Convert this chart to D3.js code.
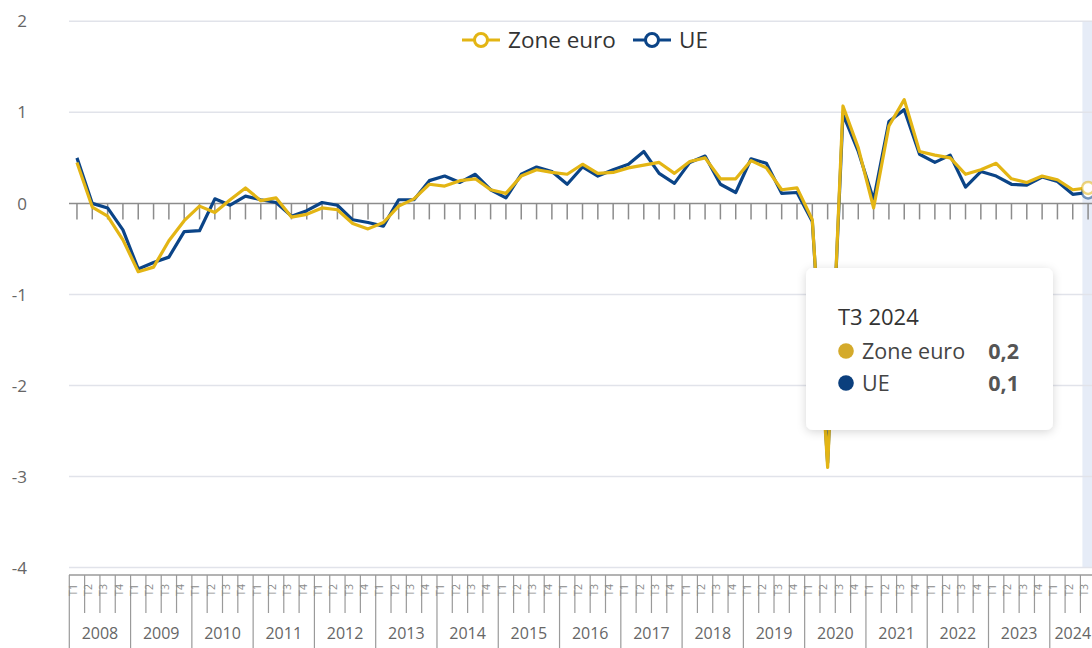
<!DOCTYPE html>
<html>
<head>
<meta charset="utf-8">
<script src="https://cdn.jsdelivr.net/npm/d3@7"></script>
<style>
  body { margin: 0; background: #fff; }
  svg { display: block; font-family: "Open Sans", "Noto Sans", sans-serif; }
</style>
</head>
<body>
<div class="container"></div>
<script>
// quarterly change, %
var years = ["2008","2009","2010","2011","2012","2013","2014","2015","2016","2017","2018","2019","2020","2021","2022","2023","2024"];
var quarterNames = ["T1","T2","T3","T4"];
var yTicks = [2, 1, 0, -1, -2, -3, -4];

var zoneEuro = [0.45,-0.04,-0.14,-0.4,-0.75,-0.7,-0.41,-0.19,-0.03,-0.1,0.04,
  0.17,0.03,0.06,-0.15,-0.12,-0.05,-0.07,-0.22,-0.28,-0.21,-0.03,
  0.05,0.21,0.19,0.25,0.27,0.15,0.11,0.3,0.37,0.34,0.32,
  0.43,0.33,0.34,0.39,0.42,0.45,0.33,0.46,0.5,0.27,0.27,
  0.47,0.39,0.15,0.17,-0.18,-2.9,1.07,0.61,-0.05,0.85,1.14,
  0.57,0.53,0.5,0.32,0.37,0.44,0.27,0.23,0.3,0.26,0.15,0.17];

var ue = [0.5,0.0,-0.05,-0.29,-0.72,-0.65,-0.59,-0.31,-0.3,0.05,-0.02,
  0.08,0.04,0.01,-0.14,-0.08,0.01,-0.02,-0.18,-0.21,-0.25,0.04,
  0.04,0.25,0.3,0.23,0.32,0.15,0.06,0.32,0.4,0.35,0.21,
  0.4,0.3,0.37,0.43,0.57,0.33,0.22,0.45,0.52,0.21,0.12,
  0.49,0.44,0.11,0.12,-0.2,-2.85,0.98,0.57,0.04,0.9,1.03,
  0.54,0.45,0.53,0.18,0.35,0.3,0.21,0.2,0.29,0.24,0.1,0.12];

var yellow = "#e3b514";
var blue = "#0b4487";
var hoverIndex = 66;

var width = 1092, height = 648;

// categories "T1 2008" ... up to the last value
var periods = [];
years.forEach(function (y) {
  quarterNames.forEach(function (q) {
    if (periods.length < zoneEuro.length) periods.push({ q: q, year: y, key: q + " " + y });
  });
});

var svg = d3.select(".container").append("svg")
  .attr("width", width)
  .attr("height", height);

var defs = svg.append("defs");
var shadow = defs.append("filter").attr("id", "shadow")
  .attr("x", "-20%").attr("y", "-20%").attr("width", "140%").attr("height", "140%");
shadow.append("feDropShadow")
  .attr("dx", 0).attr("dy", 2).attr("stdDeviation", 5)
  .attr("flood-color", "#000").attr("flood-opacity", 0.16);

var x = d3.scaleBand()
  .domain(periods.map(function (d) { return d.key; }))
  .range([69.3, 69.3 + 15.32 * periods.length]);

var y = d3.scaleLinear().domain([-4, 2]).range([567.6, 21.3]);

function cx(i) { return x(periods[i].key) + x.bandwidth() / 2; }

// hover band
svg.append("rect")
  .attr("x", x(periods[hoverIndex].key) + 2)
  .attr("y", y(2))
  .attr("width", x.bandwidth())
  .attr("height", y(-4) - y(2))
  .attr("fill", "#e6ecf7");

// gridlines
svg.selectAll(".grid")
  .data(yTicks.filter(function (d) { return d !== 0; }))
  .enter().append("line")
  .attr("x1", 69).attr("x2", width)
  .attr("y1", function (d) { return y(d); })
  .attr("y2", function (d) { return y(d); })
  .attr("stroke", "#e1e3ea")
  .attr("stroke-width", 1.5);

// y labels
svg.selectAll(".ylab")
  .data(yTicks)
  .enter().append("text")
  .attr("x", 27)
  .attr("y", function (d) { return y(d); })
  .attr("dy", "0.36em")
  .attr("text-anchor", "end")
  .attr("fill", "#666")
  .style("font-size", "17px")
  .text(function (d) { return d; });

// zero line with quarter ticks
svg.append("line")
  .attr("x1", 69).attr("x2", width)
  .attr("y1", y(0)).attr("y2", y(0))
  .attr("stroke", "#8c8c8c").attr("stroke-width", 1.5);

svg.selectAll(".ztick")
  .data(periods)
  .enter().append("line")
  .attr("x1", function (d, i) { return cx(i); })
  .attr("x2", function (d, i) { return cx(i); })
  .attr("y1", y(0)).attr("y2", y(0) + 16)
  .attr("stroke", "#8c8c8c").attr("stroke-width", 1.5);

// lines
var line = d3.line()
  .x(function (d, i) { return cx(i); })
  .y(function (d) { return y(d); });

svg.append("path").datum(ue)
  .attr("d", line)
  .attr("fill", "none").attr("stroke", blue)
  .attr("stroke-width", 3.2).attr("stroke-linejoin", "round");

svg.append("path").datum(zoneEuro)
  .attr("d", line)
  .attr("fill", "none").attr("stroke", yellow)
  .attr("stroke-width", 3.2).attr("stroke-linejoin", "round");

// hover markers
[[ue, blue], [zoneEuro, yellow]].forEach(function (s) {
  svg.append("circle")
    .attr("cx", cx(hoverIndex)).attr("cy", y(s[0][hoverIndex]))
    .attr("r", 6)
    .attr("fill", "#fff")
    .attr("stroke", s[1]).attr("stroke-opacity", 0.55)
    .attr("stroke-width", 2.5);
});

// bottom axis
var axisY = 575;
var xEnd = x.range()[1];
svg.append("line")
  .attr("x1", 69).attr("x2", xEnd)
  .attr("y1", axisY).attr("y2", axisY)
  .attr("stroke", "#9a9a9a").attr("stroke-width", 1.5);

svg.selectAll(".qline")
  .data(periods)
  .enter().append("line")
  .attr("x1", function (d) { return x(d.key); })
  .attr("x2", function (d) { return x(d.key); })
  .attr("y1", axisY)
  .attr("y2", function (d) { return d.q === "T1" ? height : 613; })
  .attr("stroke", "#9a9a9a").attr("stroke-width", 1.2);

svg.selectAll(".qlab")
  .data(periods)
  .enter().append("text")
  .attr("transform", function (d) {
    return "translate(" + (x(d.key) + 3.5) + "," + 590 + ") rotate(-90)";
  })
  .attr("text-anchor", "middle")
  .attr("dominant-baseline", "central")
  .attr("fill", "#8a8a8a")
  .style("font-size", "10.5px")
  .text(function (d) { return d.q; });

// year labels
var yearGroups = d3.groups(periods, function (d) { return d.year; });
svg.selectAll(".yearlab")
  .data(yearGroups)
  .enter().append("text")
  .attr("x", function (g) {
    var first = x(g[1][0].key);
    var last = x(g[1][g[1].length - 1].key) + x.bandwidth();
    return (first + last) / 2;
  })
  .attr("y", 633)
  .attr("dy", "0.36em")
  .attr("text-anchor", "middle")
  .attr("fill", "#666")
  .style("font-size", "16px")
  .text(function (g) { return g[0]; });

// legend
var legend = [
  { name: "Zone euro", color: yellow, x: 462 },
  { name: "UE", color: blue, x: 633 }
];
var lg = svg.selectAll(".legend")
  .data(legend)
  .enter().append("g")
  .attr("transform", function (d) { return "translate(" + d.x + ",40)"; });
lg.append("line")
  .attr("x1", 0).attr("x2", 38).attr("y1", 0).attr("y2", 0)
  .attr("stroke", function (d) { return d.color; }).attr("stroke-width", 3);
lg.append("circle")
  .attr("cx", 19).attr("cy", 0).attr("r", 6.5)
  .attr("fill", "#fff")
  .attr("stroke", function (d) { return d.color; }).attr("stroke-width", 3);
lg.append("text")
  .attr("x", 46).attr("y", 0)
  .attr("dy", "0.36em")
  .attr("fill", "#333")
  .style("font-size", "22.5px")
  .text(function (d) { return d.name; });

// tooltip
var tip = svg.append("g").attr("transform", "translate(806,268)");
tip.append("rect")
  .attr("width", 247).attr("height", 162).attr("rx", 7)
  .attr("fill", "#fff")
  .attr("filter", "url(#shadow)");
tip.append("text")
  .attr("x", 32).attr("y", 49)
  .attr("dy", "0.36em")
  .attr("fill", "#333")
  .style("font-size", "22px")
  .text(periods[hoverIndex].key);

var fmt = function (v) { return d3.format(".1f")(v).replace(".", ","); };
var rows = [
  { name: "Zone euro", color: "#d4aa2b", v: zoneEuro[hoverIndex] },
  { name: "UE", color: "#0b3f7d", v: ue[hoverIndex] }
];
var tr = tip.selectAll(".row")
  .data(rows)
  .enter().append("g")
  .attr("transform", function (d, i) { return "translate(0," + (83 + i * 32) + ")"; });
tr.append("circle")
  .attr("cx", 40).attr("cy", 0).attr("r", 7.8)
  .attr("fill", function (d) { return d.color; });
tr.append("text")
  .attr("x", 56).attr("y", 0)
  .attr("dy", "0.36em")
  .attr("fill", "#444")
  .style("font-size", "21.5px")
  .text(function (d) { return d.name; });
tr.append("text")
  .attr("x", 213).attr("y", 0)
  .attr("dy", "0.36em")
  .attr("text-anchor", "end")
  .attr("fill", "#555")
  .style("font-size", "21.5px")
  .style("font-weight", "bold")
  .text(function (d) { return fmt(d.v); });
</script>
</body>
</html>
